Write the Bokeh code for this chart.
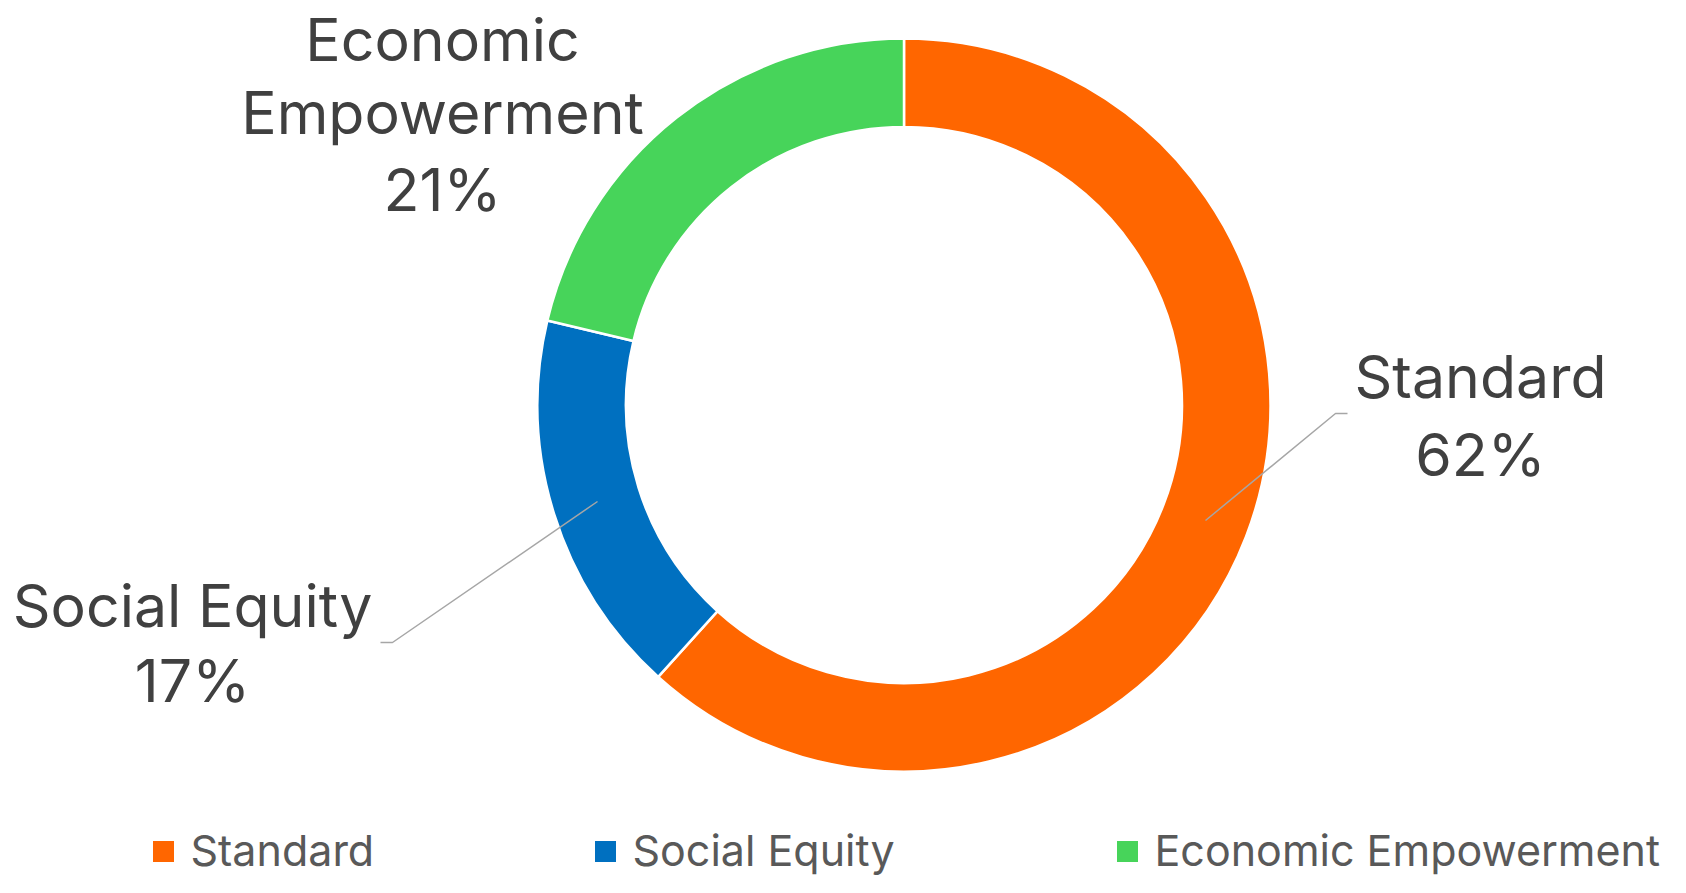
import numpy as np
from bokeh.plotting import figure
from bokeh.models import Range1d
from bokeh.core.properties import value
from bokeh.embed import file_html
from bokeh.resources import INLINE

# ---- data ----
categories = ["Standard", "Social Equity", "Economic Empowerment"]
shares = [61.7, 17.0, 21.3]
pct_labels = ["62%", "17%", "21%"]
colors = ["#FF6600", "#0070C0", "#47D45A"]

W, H = 1670, 877
FONT = "Inter"
p = figure(width=W, height=H, output_backend="svg", toolbar_location=None,
           x_range=Range1d(0, W), y_range=Range1d(0, H),
           min_border=0)
p.axis.visible = False
p.grid.visible = False
p.outline_line_color = None
p.background_fill_color = "white"
p.border_fill_color = "white"

def Y(y):  # picture y (down) -> data y (up)
    return H - y

cx, cy = 903.5, Y(404.5)
r_out, r_in = 366.5, 278.0

vals = np.array(shares, dtype=float)
frac = vals / vals.sum()
cum = np.concatenate([[0], np.cumsum(frac)])
starts = np.pi / 2 - 2 * np.pi * cum[1:]
ends = np.pi / 2 - 2 * np.pi * cum[:-1]

p.annular_wedge(x=[cx] * 3, y=[cy] * 3, inner_radius=r_in, outer_radius=r_out,
                start_angle=list(starts), end_angle=list(ends),
                fill_color=colors, line_color="white", line_width=2.5)

# leader lines
p.line(x=[1205, 1335, 1347], y=[Y(520), Y(413), Y(413)], line_color="#A6A6A6", line_width=1.5)
p.line(x=[597, 392, 380], y=[Y(501), Y(642), Y(642)], line_color="#A6A6A6", line_width=1.5)

lab_color = "#404040"
LAB = 59
SHIFT = 0.35  # compensation for rendered baseline offset (fraction of font size)
label_specs = [
    ([categories[0], pct_labels[0]], 1480, [397, 475]),
    (["Social Equity", pct_labels[1]], 192, [626, 701]),
    (["Economic", "Empowerment", pct_labels[2]], 442, [60, 133, 210]),
]
for lines, x, bases in label_specs:
    p.text(x=[x] * len(lines), y=[Y(b - SHIFT * LAB) for b in bases], text=lines,
           text_align="center", text_baseline="alphabetic",
           text_font=value(FONT), text_font_size=f"{LAB}px", text_color=lab_color)

# legend
LEG = 43
leg_sq_y = 851
leg_base = 865
sq_x = [163, 605, 1127]
txt_x = [190, 632, 1154]
p.rect(x=sq_x, y=[Y(leg_sq_y)] * 3, width=21, height=21, fill_color=colors, line_color=None)
p.text(x=txt_x, y=[Y(leg_base - SHIFT * LEG)] * 3, text=categories, text_align="left",
       text_baseline="alphabetic", text_font=value(FONT), text_font_size=f"{LEG}px",
       text_color="#595959")

open("out.html", "w").write(file_html(p, INLINE))
